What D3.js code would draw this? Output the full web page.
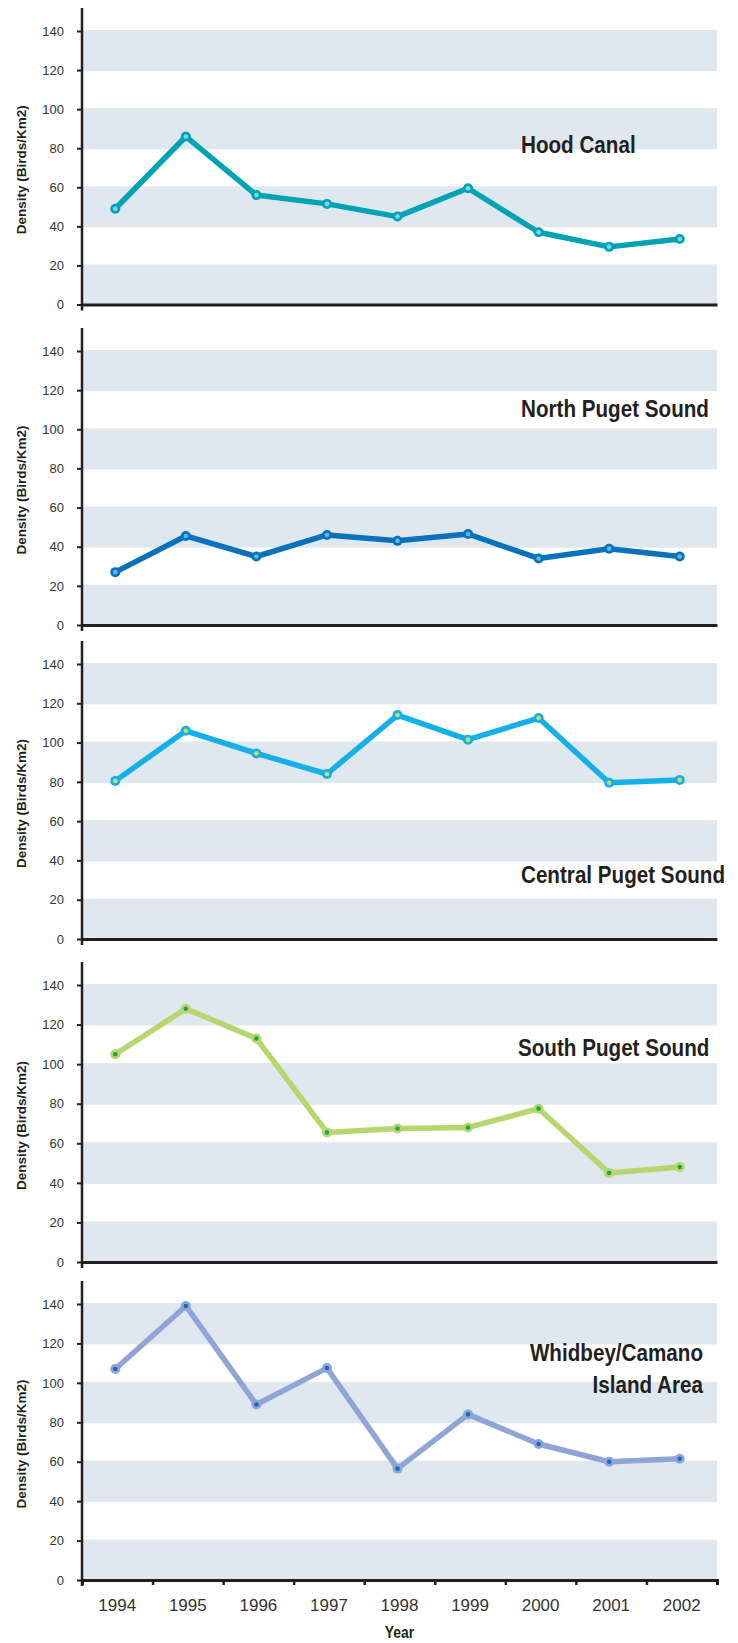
<!DOCTYPE html>
<html>
<head>
<meta charset="utf-8">
<script src="https://cdn.jsdelivr.net/npm/d3@7"></script>
<style>
  body { margin: 0; background: #fff; }
  svg { display: block; }
</style>
</head>
<body>
<div id="chart"></div>
<script>
// data
var years = ["1994", "1995", "1996", "1997", "1998", "1999", "2000", "2001", "2002"];
var yTicks = [0, 20, 40, 60, 80, 100, 120, 140];
var bands = [[0, 20], [40, 60], [80, 100], [120, 140]];

var regions = ["Hood Canal", "North Puget Sound", "Central Puget Sound", "South Puget Sound", "Whidbey/Camano|Island Area"];
var hoodCanal = [49, 86, 56, 51.5, 45, 59.5, 37, 29.5, 33.5];
var northPuget = [27, 45.5, 35, 46, 43, 46.5, 34, 39, 35];
var centralPuget = [80.5, 106, 94.5, 84, 114, 101.5, 112.5, 79.5, 81];
var southPuget = [105, 128, 113, 65.5, 67.5, 68, 77.5, 45, 48];
var whidbey = [107, 139, 89, 107.5, 56.5, 84, 69, 60, 61.5];
var series = [hoodCanal, northPuget, centralPuget, southPuget, whidbey];

var lineColors = ["#00a3b4", "#0a72bb", "#14b0ea", "#b5d76e", "#8fa5d7"];
var dotColors = ["#7fd6e6", "#5ab8e8", "#c9dc63", "#1ba84c", "#1669c4"];

var W = 738, H = 1643;
var left = 82, right = 717;
// vertical position of the 140 tick and of the zero line, per panel
var panelTop = [31, 351, 664, 985, 1304];
var panelBottom = [304.5, 625, 939, 1262, 1580];
// title placement
var titleX = [521, 521, 521, 518, 703];
var titleY = [153, 417, 883, 1056, 1361];

var svg = d3.select("#chart").append("svg")
  .attr("width", W)
  .attr("height", H);

var x = d3.scaleBand()
  .domain(years)
  .range([left, right]);

series.forEach(function(vals, i) {
  var g = svg.append("g");

  var y = d3.scaleLinear()
    .domain([0, 140])
    .range([panelBottom[i], panelTop[i]]);

  // shaded bands
  g.selectAll(".band")
    .data(bands)
    .enter()
    .append("rect")
    .attr("x", left - 1)
    .attr("width", right - left + 1)
    .attr("y", function(d) { return y(d[1]) - 1; })
    .attr("height", function(d) { return y(d[0]) - y(d[1]) + 2; })
    .style("fill", "#dee8ee");

  // y axis
  var yAxis = d3.axisLeft(y)
    .tickValues(yTicks)
    .tickSize(5)
    .tickPadding(13);
  var ya = g.append("g")
    .attr("transform", "translate(" + left + ",0)")
    .call(yAxis);
  ya.select(".domain").remove();
  ya.selectAll(".tick line").attr("stroke", "#231f20").attr("stroke-width", 2);
  ya.selectAll(".tick text")
    .attr("fill", "#333")
    .style("font-family", "'Liberation Sans', Arial, sans-serif")
    .style("font-size", "13px");

  // vertical axis line
  g.append("line")
    .attr("x1", left).attr("x2", left)
    .attr("y1", y(140) - 23)
    .attr("y2", y(0) + 6)
    .attr("stroke", "#231f20")
    .attr("stroke-width", 2.5);

  // x axis line (ticks + labels only on the last panel)
  var xAxis = d3.axisBottom(d3.scaleLinear().domain([0, years.length]).range([left, right]))
    .ticks(years.length)
    .tickSize(i === series.length - 1 ? 5 : 0)
    .tickFormat("");
  var xa = g.append("g")
    .attr("transform", "translate(0," + y(0) + ")")
    .call(xAxis);
  xa.select(".domain").attr("stroke", "#231f20").attr("stroke-width", 3);
  xa.selectAll(".tick line").attr("stroke", "#231f20").attr("stroke-width", 2.5);

  if (i === series.length - 1) {
    g.selectAll(".yearLabel")
      .data(years)
      .enter()
      .append("text")
      .attr("x", function(d) { return x(d) + x.bandwidth() / 2; })
      .attr("y", y(0) + 31)
      .attr("text-anchor", "middle")
      .attr("fill", "#333")
      .style("font-family", "'Liberation Sans', Arial, sans-serif")
      .style("font-size", "17px")
      .text(function(d) { return d; });

    g.append("text")
      .attr("transform", "translate(" + ((left + right) / 2) + "," + (H - 5) + ") scale(0.82,1)")
      .attr("text-anchor", "middle")
      .attr("fill", "#231f20")
      .style("font-family", "'Liberation Sans', Arial, sans-serif")
      .style("font-weight", "bold")
      .style("font-size", "17px")
      .text("Year");
  }

  // y axis title
  g.append("text")
    .attr("transform", "translate(26," + (y(70) + 2) + ") rotate(-90)")
    .attr("text-anchor", "middle")
    .attr("fill", "#231f20")
    .style("font-family", "'Liberation Sans', Arial, sans-serif")
    .style("font-weight", "bold")
    .style("font-size", "13.5px")
    .text("Density (Birds/Km2)");

  // the series line
  var cx = function(d, j) { return x(years[j]) + x.bandwidth() / 2 - 2; };
  var line = d3.line()
    .x(cx)
    .y(function(d) { return y(d); });

  g.append("path")
    .datum(vals)
    .attr("d", line)
    .attr("fill", "none")
    .attr("stroke", lineColors[i])
    .attr("stroke-width", 5.5)
    .attr("stroke-linejoin", "round");

  g.selectAll(".pt")
    .data(vals)
    .enter()
    .append("circle")
    .attr("cx", cx)
    .attr("cy", function(d) { return y(d); })
    .attr("r", 5)
    .attr("fill", lineColors[i]);

  g.selectAll(".dot")
    .data(vals)
    .enter()
    .append("circle")
    .attr("cx", cx)
    .attr("cy", function(d) { return y(d); })
    .attr("r", 2.3)
    .attr("fill", dotColors[i]);

  // region title (condensed look via horizontal squeeze)
  var lines = regions[i].split("|");
  var t = g.append("text")
    .attr("transform", "translate(" + titleX[i] + "," + titleY[i] + ") scale(0.86,1)")
    .attr("fill", "#231f20")
    .attr("text-anchor", lines.length > 1 ? "end" : "start")
    .style("font-family", "'Liberation Sans', Arial, sans-serif")
    .style("font-weight", "bold")
    .style("font-size", "24px");
  lines.forEach(function(s, k) {
    t.append("tspan")
      .attr("x", 0)
      .attr("y", k * 32)
      .text(s);
  });
});
</script>
</body>
</html>
